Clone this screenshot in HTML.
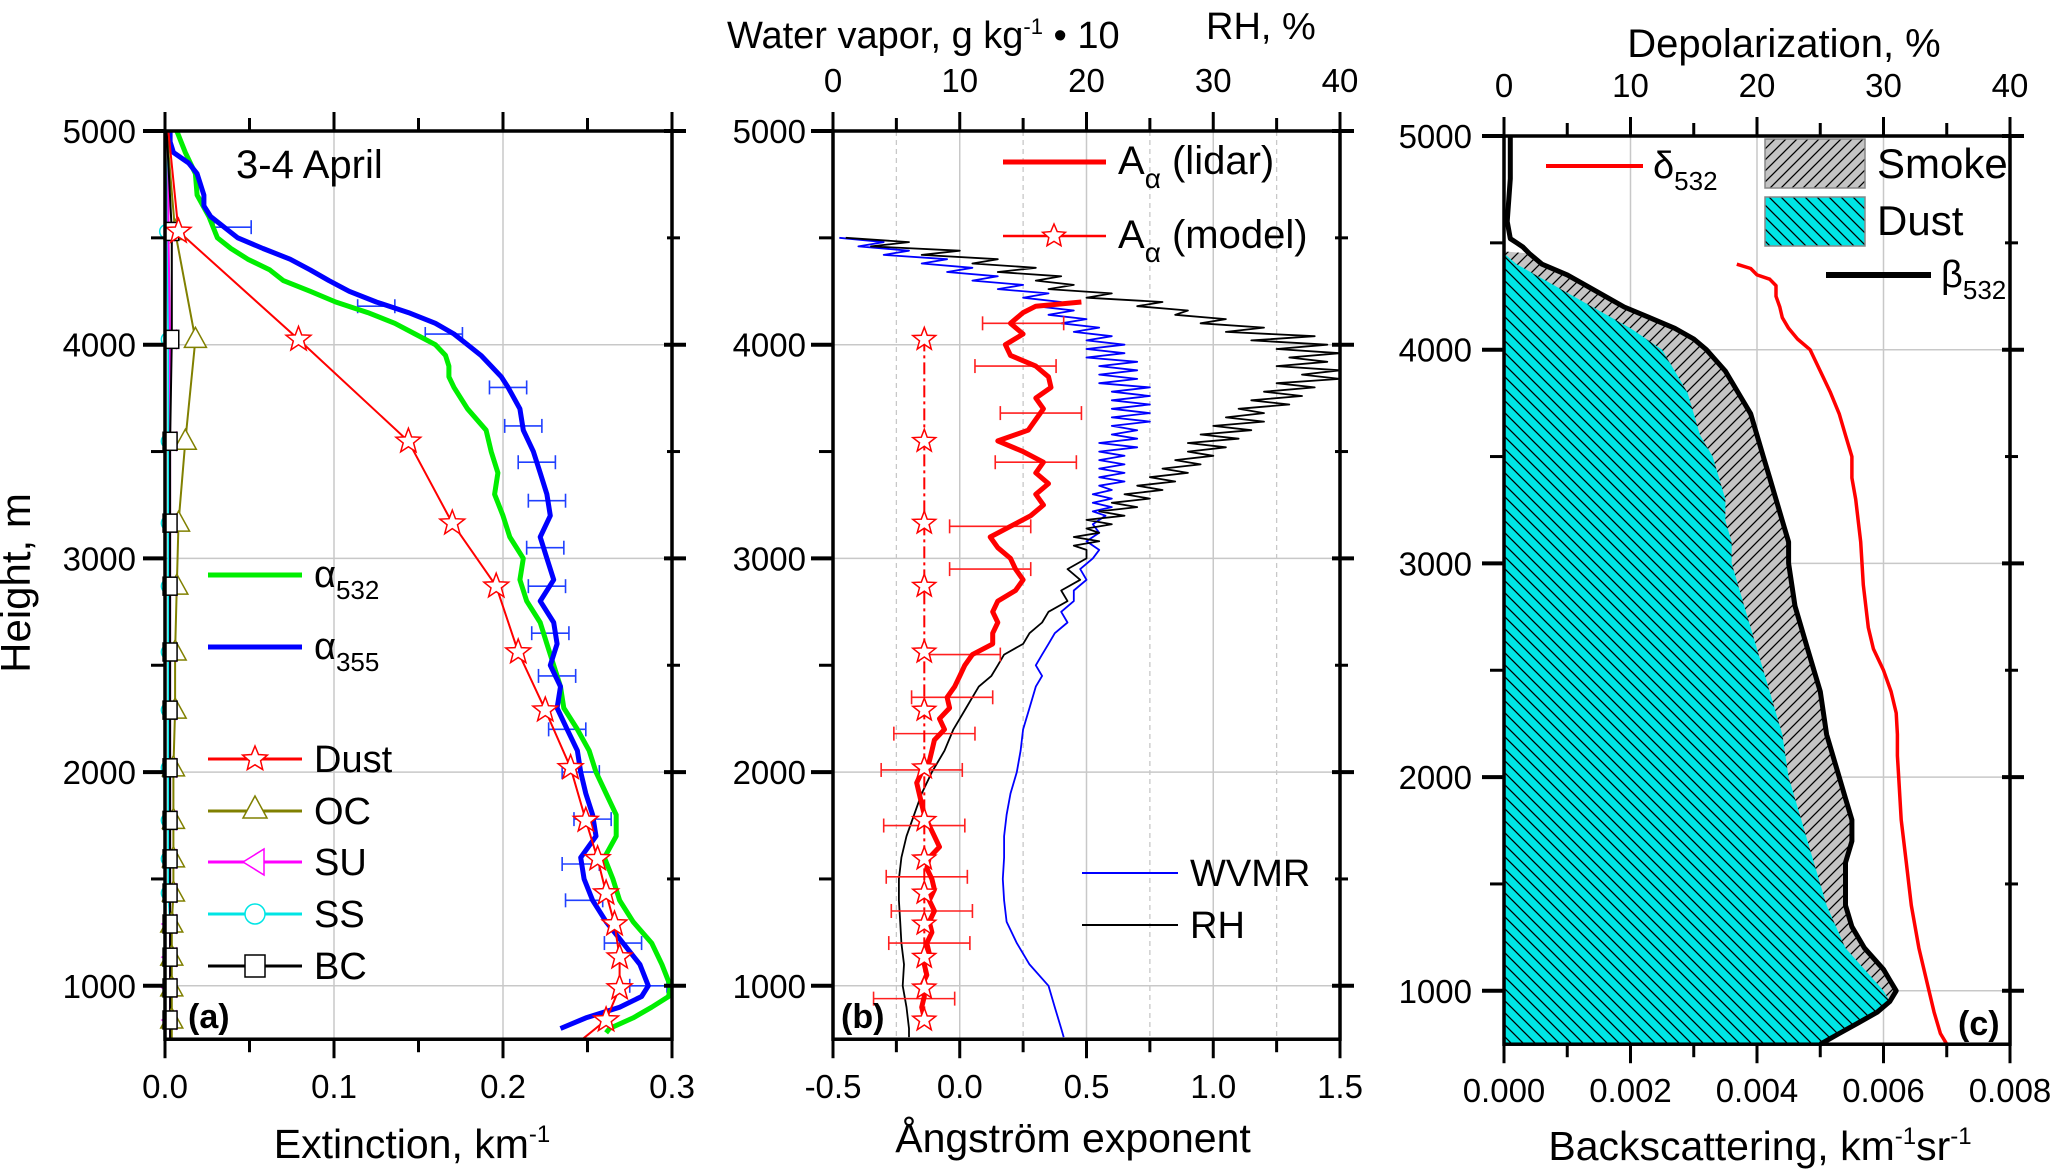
<!DOCTYPE html>
<html><head><meta charset="utf-8"><title>Lidar profiles 3-4 April</title>
<style>
html,body{margin:0;padding:0;background:#fff;}
svg{display:block;}
text{font-family:"Liberation Sans Narrow","Liberation Sans",sans-serif;fill:#000;}
</style></head>
<body>
<svg id="fig" width="2067" height="1172" viewBox="0 0 2067 1172" xmlns="http://www.w3.org/2000/svg">
<defs>
<pattern id="hatchDust" patternUnits="userSpaceOnUse" width="12" height="12">
<rect width="12" height="12" fill="#00e5e5"/>
<path d="M-3,-3 L15,15 M-3,9 L3,15 M9,-3 L15,3" stroke="#000" stroke-width="1.3"/>
</pattern>
<pattern id="hatchSmoke" patternUnits="userSpaceOnUse" width="11" height="11">
<rect width="11" height="11" fill="#c4c4c4"/>
<path d="M-3,14 L14,-3 M-3,3 L3,-3 M8,14 L14,8" stroke="#000" stroke-width="1.3"/>
</pattern>
</defs>
<g id="layer"></g>
</svg>
<script>
// ---------------- Panel (a) data ----------------
const g532H = [5000,4900,4800,4700,4600,4500,4450,4400,4350,4300,4250,4200,4150,4100,4050,4000,3950,3900,3850,3800,3700,3600,3500,3400,3300,3200,3100,3000,2900,2800,2700,2600,2500,2400,2300,2200,2100,2000,1900,1800,1700,1600,1500,1400,1300,1200,1100,1000,950,900,850,800,780];
const g532V = [0.007,0.012,0.018,0.019,0.026,0.031,0.039,0.049,0.062,0.070,0.086,0.101,0.120,0.136,0.148,0.160,0.166,0.168,0.168,0.171,0.179,0.190,0.193,0.197,0.195,0.200,0.204,0.212,0.210,0.214,0.222,0.226,0.230,0.234,0.236,0.244,0.251,0.255,0.261,0.267,0.267,0.260,0.265,0.269,0.277,0.288,0.294,0.299,0.298,0.288,0.277,0.263,0.261];
const b355H = [5000,4950,4900,4850,4800,4750,4700,4650,4600,4550,4500,4450,4400,4350,4300,4250,4200,4150,4100,4050,4000,3950,3900,3850,3800,3700,3600,3500,3400,3300,3200,3100,3000,2900,2800,2700,2600,2500,2400,2300,2200,2100,2000,1900,1800,1700,1600,1500,1400,1300,1200,1100,1000,950,900,850,800];
const b355V = [0.003,0.003,0.005,0.014,0.019,0.021,0.023,0.023,0.027,0.035,0.043,0.058,0.074,0.086,0.097,0.109,0.125,0.144,0.160,0.171,0.179,0.187,0.193,0.199,0.203,0.210,0.212,0.218,0.222,0.226,0.228,0.222,0.226,0.230,0.222,0.230,0.232,0.228,0.234,0.232,0.238,0.244,0.246,0.249,0.253,0.255,0.246,0.248,0.253,0.261,0.271,0.281,0.286,0.282,0.269,0.249,0.234];
const errAH = [4550,4180,4050,3800,3620,3450,3270,3050,2870,2650,2450,2200,2000,1780,1570,1400,1200,1000];
const errAV = [0.040,0.125,0.165,0.203,0.212,0.220,0.226,0.225,0.226,0.228,0.232,0.238,0.246,0.253,0.246,0.248,0.271,0.286];
const errAW = 0.011;
const modelH = [4530,4025,3548,3165,2870,2562,2290,2020,1774,1594,1434,1289,1134,990,840];
const dustV = [0.008,0.079,0.144,0.170,0.196,0.209,0.225,0.240,0.249,0.256,0.261,0.266,0.269,0.269,0.261];
const ocV = [0.006,0.018,0.012,0.008,0.007,0.006,0.006,0.005,0.005,0.005,0.005,0.004,0.004,0.004,0.004];
const bcV = [0.004,0.004,0.003,0.003,0.003,0.003,0.003,0.003,0.003,0.003,0.003,0.003,0.003,0.003,0.003];
const suV = [0.002,0.003,0.003,0.003,0.003,0.003,0.003,0.003,0.003,0.003,0.003,0.003,0.003,0.003,0.003];
const ssV = [0.001,0.002,0.002,0.002,0.002,0.002,0.002,0.002,0.002,0.002,0.002,0.003,0.003,0.003,0.003];
const aTicks = ["0.0","0.1","0.2","0.3"];
const hTicks = ["1000","2000","3000","4000","5000"];

// ---------------- Panel (b) data ----------------
const lidH = [4200,4180,4150,4100,4050,4000,3950,3900,3850,3800,3750,3700,3650,3600,3550,3500,3450,3400,3350,3300,3250,3200,3150,3100,3050,3000,2950,2900,2850,2800,2750,2700,2650,2600,2550,2500,2450,2400,2350,2300,2250,2200,2150,2100,2050,2000,1950,1900,1850,1800,1750,1700,1650,1600,1550,1500,1450,1400,1350,1300,1250,1200,1150,1100,1050,1000,950,900,850];
const lidV = [0.48,0.30,0.25,0.20,0.25,0.18,0.20,0.30,0.35,0.36,0.30,0.33,0.30,0.27,0.15,0.25,0.33,0.30,0.35,0.30,0.33,0.28,0.20,0.12,0.15,0.20,0.22,0.25,0.22,0.15,0.13,0.15,0.13,0.13,0.05,0.02,0.00,-0.02,-0.05,-0.04,-0.08,-0.06,-0.10,-0.11,-0.12,-0.15,-0.17,-0.16,-0.15,-0.14,-0.12,-0.10,-0.08,-0.12,-0.13,-0.11,-0.10,-0.12,-0.10,-0.12,-0.11,-0.13,-0.12,-0.14,-0.13,-0.15,-0.14,-0.15,-0.14];
const angModelV = [-0.14,-0.14,-0.14,-0.14,-0.14,-0.14,-0.14,-0.14,-0.14,-0.14,-0.14,-0.14,-0.14,-0.14,-0.14];
const errBH = [4100,3900,3680,3450,3150,2950,2550,2350,2180,2010,1750,1510,1350,1200,940];
const errBV = [0.25,0.22,0.32,0.30,0.12,0.12,0.00,-0.03,-0.10,-0.15,-0.14,-0.13,-0.11,-0.12,-0.18];
const errBW = 0.16;
const rhH = [4500,4480,4460,4440,4420,4400,4380,4360,4340,4320,4300,4280,4260,4240,4220,4200,4180,4160,4140,4120,4100,4080,4060,4040,4020,4000,3980,3960,3940,3920,3900,3880,3860,3840,3820,3800,3780,3760,3740,3720,3700,3680,3660,3640,3620,3600,3580,3560,3540,3520,3500,3480,3460,3440,3420,3400,3380,3360,3340,3320,3300,3280,3260,3240,3220,3200,3180,3160,3140,3120,3100,3080,3060,3040,3000,2950,2900,2850,2800,2750,2700,2650,2600,2550,2500,2450,2400,2350,2300,2250,2200,2100,2000,1900,1800,1700,1600,1500,1400,1300,1200,1100,1000,900,800,760];
const rhV = [1,6,3,10,7,13,11,16,13,18,16,19,17,22,20,26,24,28,27,31,29,34,31,38,33,39,35,40,36,39,35,40,37,40,35,38,34,37,33,36,32,34,31,34,30,33,29,32,28,31,28,30,27,29,26,28,25,27,24,26,23,25,22,24,21,23,20,22,20,21,19,21,19,20,20,18.5,19.5,18,18.5,17,16.5,15.5,15,13.5,13,12.5,11.5,11,10.5,10,9.5,8.8,7.8,7,6.4,5.8,5.4,5.2,5.2,5.3,5.4,5.6,5.5,5.8,6,6];
const wvH = [4500,4480,4460,4440,4420,4400,4380,4360,4340,4320,4300,4280,4260,4240,4220,4200,4180,4160,4140,4120,4100,4080,4060,4040,4020,4000,3980,3960,3940,3920,3900,3880,3860,3840,3820,3800,3780,3760,3740,3720,3700,3680,3660,3640,3620,3600,3580,3560,3540,3520,3500,3480,3460,3440,3420,3400,3380,3360,3340,3320,3300,3280,3260,3240,3220,3200,3160,3120,3080,3040,3000,2950,2900,2850,2800,2750,2700,2650,2600,2550,2500,2450,2400,2300,2200,2100,2000,1900,1800,1700,1600,1500,1400,1300,1200,1100,1000,900,800,760];
const wvV = [0.5,4,2,6,4,9,7,11,9,13,11,15,13,17,15,18,16,19,17,20,18,21,19,22,20,23,20,23,20,24,21,24,21,24,21,25,22,25,22,25,22,25,22,25,22,24,22,24,21,24,21,23,21,23,21,23,21,23,21,22,20.5,22,20.5,22,20.5,21.5,20.5,21,20,21,20.5,19.5,20,19,19,18,18.5,17.5,17,16.5,16,16.5,16,15.5,15,14.8,14.5,14,13.7,13.5,13.5,13.4,13.5,13.7,14.5,15.5,17,17.5,18,18.2];
const bTicks = ["-0.5","0.0","0.5","1.0","1.5"];
const bTopTicks = ["0","10","20","30","40"];

// ---------------- Panel (c) data ----------------
const betaH = [5000,4800,4600,4520,4500,4480,4450,4400,4350,4300,4250,4200,4150,4100,4050,4000,3900,3800,3700,3600,3500,3400,3300,3200,3100,3000,2800,2600,2400,2200,2000,1900,1800,1700,1600,1500,1400,1300,1200,1100,1050,1000,950,900,850,800,750];
const betaV = [0.0001,0.0001,0.00005,0.0001,0.0002,0.0003,0.0004,0.0006,0.001,0.0013,0.0016,0.0019,0.0023,0.0027,0.003,0.0032,0.0035,0.0037,0.0039,0.004,0.0041,0.0042,0.0043,0.0044,0.0045,0.0045,0.0046,0.0048,0.005,0.0051,0.0053,0.0054,0.0055,0.0055,0.0054,0.0054,0.0054,0.0055,0.0057,0.006,0.0061,0.0062,0.0061,0.0059,0.0056,0.0053,0.005];
const dustCH = [4450,4400,4300,4200,4100,4000,3900,3800,3700,3600,3500,3400,3300,3200,3100,3000,2800,2600,2400,2200,2000,1800,1600,1400,1200,1100,1000,950,900,850,800,750];
const dustCV = [0,0.0002,0.0008,0.0014,0.002,0.0025,0.0027,0.0029,0.003,0.0031,0.0033,0.0034,0.0035,0.0035,0.0036,0.0036,0.0038,0.004,0.0042,0.0044,0.0045,0.0047,0.0049,0.0051,0.0054,0.0057,0.006,0.0061,0.0059,0.0056,0.0053,0.005];
const depH = [4400,4380,4350,4330,4300,4250,4200,4150,4100,4050,4000,3900,3800,3700,3600,3500,3400,3300,3200,3100,3000,2900,2800,2700,2600,2500,2400,2300,2200,2100,2000,1800,1600,1400,1200,1000,900,800,750];
const depV = [18.4,19.5,20,21,21.5,21.5,21.8,22,22.5,23.2,24.2,25,25.8,26.5,27,27.5,27.5,27.8,28,28.2,28.3,28.4,28.6,28.8,29.2,30,30.6,31,31.1,31.1,31.2,31.4,31.8,32.2,32.8,33.6,34,34.5,35];
const cTicks = ["0.000","0.002","0.004","0.006","0.008"];
const cTopTicks = ["0","10","20","30","40"];

// ---------------- geometry ----------------
const NS = "http://www.w3.org/2000/svg";
const layer = document.getElementById('layer');
const yAB = h => 131 + (5000 - h) * 0.2137;
const yC = h => 136 + (5000 - h) * 0.2137;
const xA = v => 165 + v / 0.3 * 507;
const xB = a => 833 + (a + 0.5) / 2 * 507;
const xBt = t => 833 + t / 40 * 507;
const xC = b => 1504 + b / 0.008 * 506;
const xCt = d => 1504 + d / 40 * 506;

function mk(tag, attrs, parent) {
  const e = document.createElementNS(NS, tag);
  for (const k in attrs) e.setAttribute(k, attrs[k]);
  (parent || layer).appendChild(e);
  return e;
}
function pts(H, V, fx, fy) { return H.map((h, i) => fx(V[i]).toFixed(1) + ',' + fy(h).toFixed(1)).join(' '); }
function starPath(cx, cy, r) {
  let d = '';
  for (let i = 0; i < 10; i++) {
    const rr = i % 2 ? r * 0.42 : r, a = -Math.PI / 2 + i * Math.PI / 5;
    d += (i ? 'L' : 'M') + (cx + rr * Math.cos(a)).toFixed(1) + ',' + (cy + rr * Math.sin(a)).toFixed(1);
  }
  return d + 'Z';
}
function txt(x, y, s, size, anchor, parent) {
  const t = mk('text', {x: x, y: y, 'font-size': size, 'text-anchor': anchor || 'middle'}, parent);
  t.textContent = s;
  return t;
}

// ---------- frames, grids, ticks ----------
function panelFrame(name, L, R, T, B, yf, gridX, gridDash) {
  const g = mk('g', {});
  
  
  [1000, 2000, 3000, 4000].forEach(h => {
    const l = mk('line', {x1: L, x2: R, y1: yf(h), y2: yf(h), stroke: '#c8c8c8', 'stroke-width': 1.5}, g);
    
    
  });
  gridX.forEach(x => {
    const l = mk('line', {x1: x, x2: x, y1: T, y2: B, stroke: '#c8c8c8', 'stroke-width': 1.5}, g);
    
    
  });
  gridDash.forEach(x => {
    const l = mk('line', {x1: x, x2: x, y1: T, y2: B, stroke: '#c8c8c8', 'stroke-width': 1.3, 'stroke-dasharray': '5,4'}, g);
    
    
  });
}
function panelAxes(name, L, R, T, B, yf, xTickPos) {
  const g = mk('g', {});
  
  
  mk('rect', {x: L, y: T, width: R - L, height: B - T, fill: 'none', stroke: '#000', 'stroke-width': 3.5}, g);
  for (let h = 1000; h <= 5000; h += 500) {
    const major = h % 1000 === 0, y = yf(h);
    mk('line', {x1: L - (major ? 22 : 14), x2: L, y1: y, y2: y, stroke: '#000', 'stroke-width': major ? 4 : 3}, g);
    mk('line', {x1: R - (major ? 8 : 5), x2: R + (major ? 14 : 8), y1: y, y2: y, stroke: '#000', 'stroke-width': major ? 4 : 3}, g);
  }
  xTickPos.forEach((x, i) => {
    const len = i % 2 === 0 ? 19 : 13;
    mk('line', {x1: x, x2: x, y1: T, y2: T - len, stroke: '#000', 'stroke-width': 3}, g);
    mk('line', {x1: x, x2: x, y1: B, y2: B + len, stroke: '#000', 'stroke-width': 3}, g);
  });
}

// Panel A frame
panelFrame('panel-a', xA(0), xA(0.3), yAB(5000), yAB(750), yAB, [xA(0.1), xA(0.2)], []);
panelFrame('panel-b', xB(-0.5), xB(1.5), yAB(5000), yAB(750), yAB, [xB(0), xB(0.5), xB(1.0)], [xB(-0.25), xB(0.25), xB(0.75), xB(1.25)]);
panelFrame('panel-c', xC(0), xC(0.008), yC(5000), yC(750), yC, [xC(0.002), xC(0.004), xC(0.006)], []);

// ---------- Panel (a) series ----------
function line(H, V, fx, fy, color, w, name, dash) {
  const p = mk('polyline', {points: pts(H, V, fx, fy), fill: 'none', stroke: color, 'stroke-width': w, 'stroke-linejoin': 'round'});
  if (dash) p.setAttribute('stroke-dasharray', dash);
  
  
  return p;
}
function errBars(H, V, W, fx, fy, color, name) {
  const g = mk('g', {});
  
  
  H.forEach((h, i) => {
    const y = fy(h), x1 = fx(V[i] - W), x2 = fx(V[i] + W);
    mk('line', {x1: x1, x2: x2, y1: y, y2: y, stroke: color, 'stroke-width': 1.6}, g);
    mk('line', {x1: x1, x2: x1, y1: y - 7, y2: y + 7, stroke: color, 'stroke-width': 1.6}, g);
    mk('line', {x1: x2, x2: x2, y1: y - 7, y2: y + 7, stroke: color, 'stroke-width': 1.6}, g);
  });
}
errBars(errAH, errAV, errAW, xA, yAB, '#2040ff', 'alpha355-error-bars');
line(g532H, g532V, xA, yAB, '#00ee00', 5, 'alpha532-line');
line(b355H, b355V, xA, yAB, '#0000ff', 5, 'alpha355-line');

// small component lines
line([5000].concat(modelH, [750]), [0.002].concat(ssV, [0.003]), xA, yAB, '#00e5e5', 2, 'ss-line');
line([5000].concat(modelH, [750]), [0.002].concat(suV, [0.003]), xA, yAB, '#ff00ff', 2, 'su-line');
line([5000].concat(modelH, [750]), [0.001].concat(ocV, [0.004]), xA, yAB, '#808000', 2, 'oc-line');
line([5000].concat(modelH, [750]), [0.001].concat(bcV, [0.003]), xA, yAB, '#000', 2, 'bc-line');
line([5000].concat(modelH, [750]), [0.002].concat(dustV, [0.247]), xA, yAB, '#ff0000', 2, 'dust-line');

modelH.forEach((h, i) => {
  const y = yAB(h);
  const su = mk('path', {d: `M${xA(suV[i]) - 8},${y} L${xA(suV[i]) + 6},${y - 9} L${xA(suV[i]) + 6},${y + 9} Z`, fill: '#fff', stroke: '#ff00ff', 'stroke-width': 1.5});
  
  
  const ss = mk('circle', {cx: xA(ssV[i]), cy: y, r: 7, fill: '#fff', stroke: '#00e5e5', 'stroke-width': 1.5});
  
  
  const oc = mk('path', {d: `M${xA(ocV[i])},${y - 12} L${xA(ocV[i]) + 11},${y + 8} L${xA(ocV[i]) - 11},${y + 8} Z`, fill: '#fff', stroke: '#808000', 'stroke-width': 1.5});
  
  
  const bc = mk('rect', {x: xA(bcV[i]) - 7, y: y - 9, width: 14, height: 18, fill: '#fff', stroke: '#000', 'stroke-width': 1.5});
  
  
  const st = mk('path', {d: starPath(xA(dustV[i]), y, 13), fill: '#fff', stroke: '#ff0000', 'stroke-width': 1.5});
  
  
});

// ---------- Panel (b) series ----------
line(wvH, wvV, xBt, yAB, '#0000ff', 1.8, 'wvmr-line');
line(rhH, rhV, xBt, yAB, '#000', 1.8, 'rh-line');
errBars(errBH, errBV, errBW, xB, yAB, '#ff2020', 'angstrom-error-bars');
line(lidH, lidV, xB, yAB, '#ff0000', 5, 'angstrom-lidar-line');
line(modelH.slice(1), angModelV.slice(1), xB, yAB, '#ff0000', 2, 'angstrom-model-line', '12,4,3,4');
modelH.slice(1).forEach((h, i) => {
  const st = mk('path', {d: starPath(xB(angModelV[i + 1]), yAB(h), 12), fill: '#fff', stroke: '#ff0000', 'stroke-width': 1.5});
  
  
});

// ---------- Panel (c) series ----------
(function () {
  const betaPts = betaH.filter(h => h <= 4450).map(h => h);
  let d = '';
  betaH.forEach((h, i) => { if (h <= 4460) d += (d ? 'L' : 'M') + xC(betaV[i]).toFixed(1) + ',' + yC(h).toFixed(1); });
  d += 'L' + xC(0) + ',' + yC(750) + 'L' + xC(0) + ',' + yC(4460) + 'Z';
  const sm = mk('path', {d: d, fill: 'url(#hatchSmoke)', stroke: 'none'});
  
  
  let d2 = '';
  dustCH.forEach((h, i) => { d2 += (d2 ? 'L' : 'M') + xC(dustCV[i]).toFixed(1) + ',' + yC(h).toFixed(1); });
  d2 += 'L' + xC(0) + ',' + yC(750) + 'L' + xC(0) + ',' + yC(4450) + 'Z';
  const du = mk('path', {d: d2, fill: 'url(#hatchDust)', stroke: 'none'});
  
  
})();
line(betaH, betaV, xC, yC, '#000', 5, 'beta532-line');
line(depH, depV, xCt, yC, '#ff0000', 3.5, 'delta532-line');

// axes on top
panelAxes('panel-a', xA(0), xA(0.3), yAB(5000), yAB(750), yAB, [0, 0.05, 0.1, 0.15, 0.2, 0.25, 0.3].map(xA));
panelAxes('panel-b', xB(-0.5), xB(1.5), yAB(5000), yAB(750), yAB, [-0.5, -0.25, 0, 0.25, 0.5, 0.75, 1, 1.25, 1.5].map(xB));
panelAxes('panel-c', xC(0), xC(0.008), yC(5000), yC(750), yC, [0, 0.001, 0.002, 0.003, 0.004, 0.005, 0.006, 0.007, 0.008].map(xC));

// ---------- tick labels ----------
hTicks.forEach(s => {
  const h = +s;
  const a = txt(136, yAB(h) + 12, s, 33, 'end');
  
  
  const b = txt(806, yAB(h) + 12, s, 33, 'end');
  
  
  const c = txt(1472, yC(h) + 12, s, 33, 'end');
  
  
});
aTicks.forEach(s => {
  const t = txt(xA(+s), 1098, s, 33);
  
  
});
bTicks.forEach(s => {
  const t = txt(xB(+s), 1098, s, 33);
  
  
});
bTopTicks.forEach(s => {
  const t = txt(xBt(+s), 92, s, 33);
  
  
});
cTicks.forEach(s => {
  const t = txt(xC(+s), 1102, s, 33);
  
  
});
cTopTicks.forEach(s => {
  const t = txt(xCt(+s), 97, s, 33);
  
  
});
</script>

<svg style="position:absolute;left:0;top:0" width="2067" height="1172">
<g font-family="Liberation Sans Narrow, Liberation Sans, sans-serif" fill="#000">
<text x="30" y="583" font-size="42" text-anchor="middle" transform="rotate(-90 30 583)">Height, m</text>
<text x="412" y="1158" font-size="41" text-anchor="middle">Extinction, km<tspan dy="-16" font-size="24">-1</tspan></text>
<text x="1073" y="1152" font-size="41" text-anchor="middle">Ångström exponent</text>
<text x="1760" y="1160" font-size="41" text-anchor="middle">Backscattering, km<tspan dy="-16" font-size="24">-1</tspan><tspan dy="16">sr</tspan><tspan dy="-16" font-size="24">-1</tspan></text>
<text x="727" y="48" font-size="38">Water vapor, g kg<tspan dy="-14" font-size="22">-1</tspan><tspan dy="14"> • 10</tspan></text>
<text x="1206" y="39" font-size="38">RH, %</text>
<text x="1784" y="57" font-size="40" text-anchor="middle">Depolarization, %</text>
<text x="236" y="178" font-size="40">3-4 April</text>
<text x="188" y="1028" font-size="34" font-weight="bold">(a)</text>
<text x="841" y="1028" font-size="34" font-weight="bold">(b)</text>
<text x="1958" y="1035" font-size="34" font-weight="bold">(c)</text>

<g>
<line x1="208" x2="302" y1="575" y2="575" stroke="#00ee00" stroke-width="5"/>
<text x="314" y="587" font-size="38">α<tspan dy="12" font-size="26">532</tspan></text>
<line x1="208" x2="302" y1="647" y2="647" stroke="#0000ff" stroke-width="5"/>
<text x="314" y="659" font-size="38">α<tspan dy="12" font-size="26">355</tspan></text>
<line x1="208" x2="302" y1="759" y2="759" stroke="#ff0000" stroke-width="3"/>
<path d="M255,746 L258.5,754.5 L267.4,755.1 L260.6,760.8 L262.7,769.5 L255,764.8 L247.3,769.5 L249.4,760.8 L242.6,755.1 L251.5,754.5 Z" fill="#fff" stroke="#ff0000" stroke-width="1.5"/>
<text x="314" y="772" font-size="38">Dust</text>
<line x1="208" x2="302" y1="811" y2="811" stroke="#808000" stroke-width="3"/>
<path d="M255,796 L267,818 L243,818 Z" fill="#fff" stroke="#808000" stroke-width="1.5"/>
<text x="314" y="824" font-size="38">OC</text>
<line x1="208" x2="302" y1="862" y2="862" stroke="#ff00ff" stroke-width="3"/>
<path d="M243,862 L264,849 L264,875 Z" fill="#fff" stroke="#ff00ff" stroke-width="1.5"/>
<text x="314" y="875" font-size="38">SU</text>
<line x1="208" x2="302" y1="914" y2="914" stroke="#00e5e5" stroke-width="3"/>
<circle cx="255" cy="914" r="10" fill="#fff" stroke="#00e5e5" stroke-width="1.5"/>
<text x="314" y="927" font-size="38">SS</text>
<line x1="208" x2="302" y1="966" y2="966" stroke="#000" stroke-width="3"/>
<rect x="245" y="955" width="20" height="22" fill="#fff" stroke="#000" stroke-width="1.5"/>
<text x="314" y="979" font-size="38">BC</text>
</g>

<g>
<line x1="1003" x2="1106" y1="162" y2="162" stroke="#ff0000" stroke-width="5"/>
<text x="1118" y="174" font-size="40">A<tspan dy="14" font-size="28">α</tspan><tspan dy="-14"> (lidar)</tspan></text>
<line x1="1003" x2="1106" y1="236" y2="236" stroke="#ff0000" stroke-width="2.5"/>
<path d="M1054,224 L1057.2,231.6 L1065.4,232.3 L1059.2,237.6 L1061,245.7 L1054,241.4 L1047,245.7 L1048.8,237.6 L1042.6,232.3 L1050.8,231.6 Z" fill="#fff" stroke="#ff0000" stroke-width="1.5"/>
<text x="1118" y="248" font-size="40">A<tspan dy="14" font-size="28">α</tspan><tspan dy="-14"> (model)</tspan></text>
<line x1="1082" x2="1178" y1="873" y2="873" stroke="#0000ff" stroke-width="2"/>
<text x="1190" y="886" font-size="38">WVMR</text>
<line x1="1082" x2="1178" y1="925" y2="925" stroke="#000" stroke-width="2"/>
<text x="1190" y="938" font-size="38">RH</text>
</g>

<g>
<line x1="1546" x2="1643" y1="166" y2="166" stroke="#ff0000" stroke-width="4"/>
<text x="1653" y="178" font-size="38">δ<tspan dy="12" font-size="26">532</tspan></text>
<rect x="1765" y="139" width="100" height="49" fill="url(#hatchSmoke)" stroke="#888" stroke-width="1.5"/>
<text x="1877" y="178" font-size="42">Smoke</text>
<rect x="1765" y="197" width="100" height="49" fill="url(#hatchDust)" stroke="#888" stroke-width="1.5"/>
<text x="1877" y="235" font-size="42">Dust</text>
<line x1="1826" x2="1931" y1="275" y2="275" stroke="#000" stroke-width="6"/>
<text x="1941" y="287" font-size="38">β<tspan dy="12" font-size="26">532</tspan></text>
</g>
</g>
</svg>
</body></html>
